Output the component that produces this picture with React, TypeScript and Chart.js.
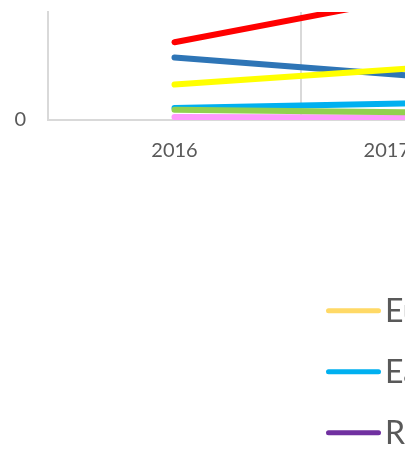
import React, { useEffect, useRef } from 'react';
import { Chart, registerables } from 'chart.js';

Chart.register(...registerables);

// ---- data ----
const years = ['2016', '2017'];

const seriesNames = [
  'Europe',
  'North America',
  'Latin America',
  'East Asia & Pacific',
  'South Asia',
  'Middle East',
  'Rest of World',
  'Africa',
];
const seriesColors = ['#FFD966', '#FF0000', '#2E75B6', '#00B0F0', '#FFFF00', '#92D050', '#7030A0', '#FF99FF'];
// stacking order (lower = drawn on top)
const seriesOrder = [0, 0, 2, 2, 1, 1, 0, 3];

const europe = [520, 610];
const northAmerica = [259, 420];
const latinAmerica = [208, 143];
const eastAsia = [40, 57];
const southAsia = [118, 176];
const middleEast = [34, 25];
const restOfWorld = [450, 560];
const africa = [10, 8];

const seriesValues = [europe, northAmerica, latinAmerica, eastAsia, southAsia, middleEast, restOfWorld, africa];

const yMax = 360;
const yTicks = [0];

const TEXT = '#595959';
const GRID = '#D9D9D9';

// visible frame of the chart (edge labels are kept inside it, as Excel does)
const FRAME_W = 410;

const yearLabelPlugin = {
  id: 'yearLabels',
  afterDraw(chart: any) {
    const { ctx, chartArea, scales } = chart;
    const xs = scales.x;
    ctx.save();
    ctx.font = '20px Lato';
    ctx.fillStyle = TEXT;
    ctx.textAlign = 'center';
    ctx.textBaseline = 'alphabetic';
    years.forEach((label, i) => {
      const w = ctx.measureText(label).width;
      let px = xs.getPixelForValue(i);
      px = Math.min(px, FRAME_W - w / 2);
      ctx.fillText(label, px, chartArea.bottom + 37);
    });
    ctx.restore();
  },
};

const lineLegendPlugin = {
  id: 'lineLegend',
  afterDraw(chart: any, _args: any, opts: any) {
    const { ctx } = chart;
    const { left, top, rowHeight, colWidth, columns, lineLength, lineWidth, gap, fontSize } = opts;
    ctx.save();
    chart.data.datasets.forEach((ds: any, i: number) => {
      const col = i % columns;
      const row = Math.floor(i / columns);
      const x = left + col * colWidth;
      const y = top + row * rowHeight;
      ctx.strokeStyle = ds.borderColor;
      ctx.lineWidth = lineWidth;
      ctx.lineCap = 'round';
      ctx.beginPath();
      ctx.moveTo(x + lineWidth / 2, y);
      ctx.lineTo(x + lineLength - lineWidth / 2, y);
      ctx.stroke();
      ctx.fillStyle = TEXT;
      ctx.font = `${fontSize}px Lato`;
      ctx.textAlign = 'left';
      ctx.textBaseline = 'alphabetic';
      ctx.fillText(ds.label, x + lineLength + gap, y + fontSize * 0.36);
    });
    ctx.restore();
  },
};

export default function App() {
  const ref = useRef<HTMLCanvasElement>(null);

  useEffect(() => {
    if (!ref.current) return;
    const chart = new Chart(ref.current, {
      type: 'line',
      data: {
        labels: years,
        datasets: seriesNames.map((name, i) => ({
          label: name,
          data: seriesValues[i],
          borderColor: seriesColors[i],
          backgroundColor: seriesColors[i],
          borderWidth: 6,
          borderCapStyle: 'round' as const,
          borderJoinStyle: 'round' as const,
          pointRadius: 0,
          pointHoverRadius: 0,
          tension: 0,
          fill: false,
          clip: 0,
          order: seriesOrder[i],
        })),
      },
      options: {
        animation: false,
        responsive: false,
        devicePixelRatio: 1,
        events: [],
        layout: { padding: { top: 12, left: 0, right: 6, bottom: 329 } },
        plugins: {
          legend: { display: false },
          tooltip: { enabled: false },
          lineLegend: {
            left: 326,
            top: 310.8,
            rowHeight: 61,
            colWidth: 420,
            columns: 3,
            lineLength: 55,
            lineWidth: 5,
            gap: 4,
            fontSize: 32,
          },
        } as any,
        scales: {
          x: {
            offset: true,
            grid: { offset: true, color: GRID, lineWidth: 2, drawTicks: false },
            border: { color: GRID, width: 2 },
            ticks: { display: false },
          },
          y: {
            min: 0,
            max: yMax,
            grid: { display: false, drawTicks: false },
            border: { color: GRID, width: 2 },
            ticks: {
              padding: 22,
              color: TEXT,
              font: { family: 'Lato', size: 20 },
            },
            afterBuildTicks(scale: any) {
              scale.ticks = yTicks.map((v) => ({ value: v }));
            },
            afterFit(scale: any) {
              scale.width = 48;
              scale.paddingTop = 0;
              scale.paddingBottom = 0;
            },
          },
        },
      },
      plugins: [yearLabelPlugin, lineLegendPlugin],
    });
    return () => chart.destroy();
  }, []);

  return (
    <div
      style={{
        position: 'absolute',
        left: 0,
        top: 0,
        width: 405,
        height: 449,
        overflow: 'hidden',
        background: '#ffffff',
      }}
    >
      <canvas ref={ref} width={560} height={449} style={{ display: 'block' }} />
    </div>
  );
}
